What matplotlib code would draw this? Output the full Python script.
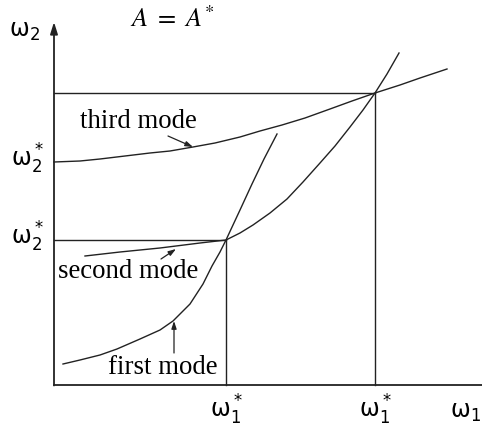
import matplotlib
matplotlib.use("Agg")
import matplotlib.pyplot as plt

# curves, coordinates measured from the axis origin
first_x = [9, 26, 46, 63, 86, 106, 119, 136, 149, 158, 166, 172,
           186, 198, 210, 223]
first_y = [21, 25, 30, 36, 46, 55, 64, 81, 101, 119, 133, 145,
           175, 201, 226, 251]

second_x = [31, 66, 106, 146, 172, 186, 199, 216, 233, 249, 266, 281, 296,
            309, 321, 333, 345]
second_y = [129, 133, 137, 142, 145, 152, 160, 172, 186, 203, 222, 239, 258,
            275, 292, 311, 332]

third_x = [0, 26, 46, 71, 96, 116, 139, 161, 186, 206, 228, 251, 276, 298,
           321, 346, 366, 393]
third_y = [223, 224, 226, 229, 232, 234, 238, 242, 248, 254, 260, 267, 276,
           284, 292, 300, 307, 316]

# crossing points (omega1*, omega2*)
cross_x = [172, 321]
cross_y = [145, 292]

# omega2* marks on the vertical axis
w2_marks = [223, 145]

fig = plt.figure(figsize=(4.82, 4.28), dpi=100)
ax = fig.add_axes([0, 0, 1, 1])
ax.set_xlim(-54, 428)
ax.set_ylim(-43, 385)
ax.axis("off")

lw = 1.0
col = "#222222"

# axes
ax.plot([0, 428], [0, 0], color=col, lw=1.3)
ax.annotate("", xy=(0, 363), xytext=(0, -0.5),
            arrowprops=dict(arrowstyle="-|>,head_length=0.7,head_width=0.22",
                            color=col, lw=1.3, shrinkA=0, shrinkB=0))

# guide lines
for cx, cy in zip(cross_x, cross_y):
    ax.plot([0, cx], [cy, cy], color=col, lw=lw)
    ax.plot([cx, cx], [0, cy], color=col, lw=lw)

# modes
ax.plot(first_x, first_y, color=col, lw=lw)
ax.plot(second_x, second_y, color=col, lw=lw)
ax.plot(third_x, third_y, color=col, lw=lw)

serif = dict(family="Liberation Serif", fontsize=19.3, color="black")
ax.text(84, 264, "third mode", ha="center", va="center", **serif)
ax.text(74, 113, "second mode", ha="center", va="center", **serif)
ax.text(109, 18, "first mode", ha="center", va="center", **serif)

arrow = dict(arrowstyle="-|>,head_length=0.45,head_width=0.15", color=col,
             lw=0.9, shrinkA=0, shrinkB=0)
ax.annotate("", xy=(139, 238), xytext=(114, 249), arrowprops=arrow)
ax.annotate("", xy=(122, 136), xytext=(107, 126), arrowprops=arrow)
ax.annotate("", xy=(120, 64), xytext=(120, 32), arrowprops=arrow)

ax.text(118, 365, r"$A\ =\ A^{*}$", ha="center", va="center",
        fontsize=19, math_fontfamily="stix")

wfs = 17
ax.text(-30, 348, r"$\mathregular{\omega_2}$", ha="center", va="baseline",
        fontsize=wfs, math_fontfamily="dejavusans")
for wy in w2_marks:
    ax.text(-10, wy - 5, r"$\mathregular{\omega_2^*}$", ha="right",
            va="baseline", fontsize=wfs, math_fontfamily="dejavusans")
for cx in cross_x:
    ax.text(cx, -33, r"$\mathregular{\omega_1^*}$", ha="center",
            va="baseline", fontsize=wfs, math_fontfamily="dejavusans")
ax.text(411, -33, r"$\mathregular{\omega_1}$", ha="center", va="baseline",
        fontsize=wfs, math_fontfamily="dejavusans")

fig.savefig("out.png", dpi=100)
